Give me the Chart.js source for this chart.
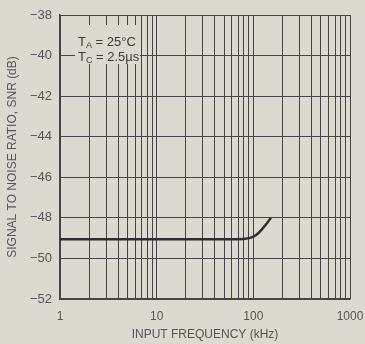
<!DOCTYPE html>
<html>
<head>
<meta charset="utf-8">
<script src="https://cdn.jsdelivr.net/npm/chart.js@4/dist/chart.umd.min.js"></script>
<style>
  html, body { margin: 0; padding: 0; background: #dcd9d1; }
  canvas { display: block; }
</style>
</head>
<body>
<canvas id="snr" width="365" height="344"></canvas>
<script>
// curve
const freq = [1, 10, 50, 80, 90, 100, 110, 120, 135, 152];
const snr = [-49.05, -49.05, -49.05, -49.04, -49.0, -48.93, -48.8, -48.62, -48.33, -48.0];

const decades = [1, 10, 100, 1000];
const minorSteps = [1, 2, 3, 4, 5, 6, 7, 8, 9];
const yTicks = [-38, -40, -42, -44, -46, -48, -50, -52];
const noteLines = ["T_A = 25°C", "T_C = 2.5µs"];

const FONT = "'Liberation Sans Narrow', 'Liberation Sans', Arial, sans-serif";
const INK = "#444";
const BG = "#dcd9d1";

// all grid positions of a log x axis: 1..9 in each decade, plus the last decade
const gridVals = [];
decades.slice(0, -1).forEach(d => minorSteps.forEach(m => gridVals.push(d * m)));
gridVals.push(decades[decades.length - 1]);

// background + the T_A / T_C note with a masking box
const notePlugin = {
  id: "note",
  beforeDraw(chart) {
    const c = chart.ctx;
    c.save();
    c.fillStyle = BG;
    c.fillRect(0, 0, chart.width, chart.height);
    c.restore();
  },
  afterDatasetsDraw(chart) {
    const c = chart.ctx;
    c.save();
    c.fillStyle = BG;
    c.fillRect(75, 25, 65, 39);
    c.fillStyle = "#3c3c3c";
    c.textBaseline = "middle";
    const ys = [42, 57];
    noteLines.forEach((t, i) => {
      const [sym, rest] = t.split("_");
      const sub = rest.split(" ")[0];
      const tail = rest.slice(sub.length);
      let x = 78;
      c.font = "13px " + FONT;
      c.fillText(sym, x, ys[i]);
      x += c.measureText(sym).width;
      c.font = "9px " + FONT;
      c.fillText(sub, x, ys[i] + 4);
      x += c.measureText(sub).width;
      c.font = "13px " + FONT;
      c.fillText(tail, x, ys[i]);
    });
    c.restore();
  }
};

new Chart(document.getElementById("snr"), {
  type: "line",
  data: {
    datasets: [{
      data: freq.map((f, i) => ({ x: f, y: snr[i] })),
      borderColor: "#2e2e2e",
      borderWidth: 2.5,
      pointRadius: 0,
      cubicInterpolationMode: "monotone",
      fill: false
    }]
  },
  options: {
    responsive: false,
    animation: false,
    layout: { padding: { left: 0, right: 15, top: 15, bottom: 0 } },
    plugins: { legend: { display: false }, tooltip: { enabled: false } },
    scales: {
      x: {
        type: "logarithmic",
        min: 1,
        max: 1000,
        afterBuildTicks: s => { s.ticks = gridVals.map(v => ({ value: v })); },
        afterFit: s => { s.height = 45; s.paddingLeft = 0; s.paddingRight = 0; },
        grid: { color: INK, lineWidth: 1, drawTicks: false },
        border: { color: INK, width: 1.5 },
        ticks: {
          autoSkip: false,
          maxRotation: 0,
          padding: 10,
          color: "#555",
          font: { family: FONT, size: 12 },
          callback: v => decades.includes(v) ? String(v) : ""
        },
        title: {
          display: true,
          text: "INPUT FREQUENCY (kHz)",
          color: "#555",
          font: { family: FONT, size: 12 },
          padding: { top: 0, bottom: 2 }
        }
      },
      y: {
        min: -52,
        max: -38,
        afterBuildTicks: s => { s.ticks = yTicks.map(v => ({ value: v })); },
        afterFit: s => { s.width = 60; s.paddingTop = 0; s.paddingBottom = 0; },
        grid: { color: INK, lineWidth: 1, drawTicks: false },
        border: { color: INK, width: 1.5 },
        ticks: {
          padding: 8,
          color: "#555",
          font: { family: FONT, size: 13 },
          callback: v => "\u2212" + Math.abs(v)
        },
        title: {
          display: true,
          text: "SIGNAL TO NOISE RATIO, SNR (dB)",
          color: "#555",
          font: { family: FONT, size: 12 },
          padding: { top: 5, bottom: 0 }
        }
      }
    }
  },
  plugins: [notePlugin]
});
</script>
</body>
</html>
